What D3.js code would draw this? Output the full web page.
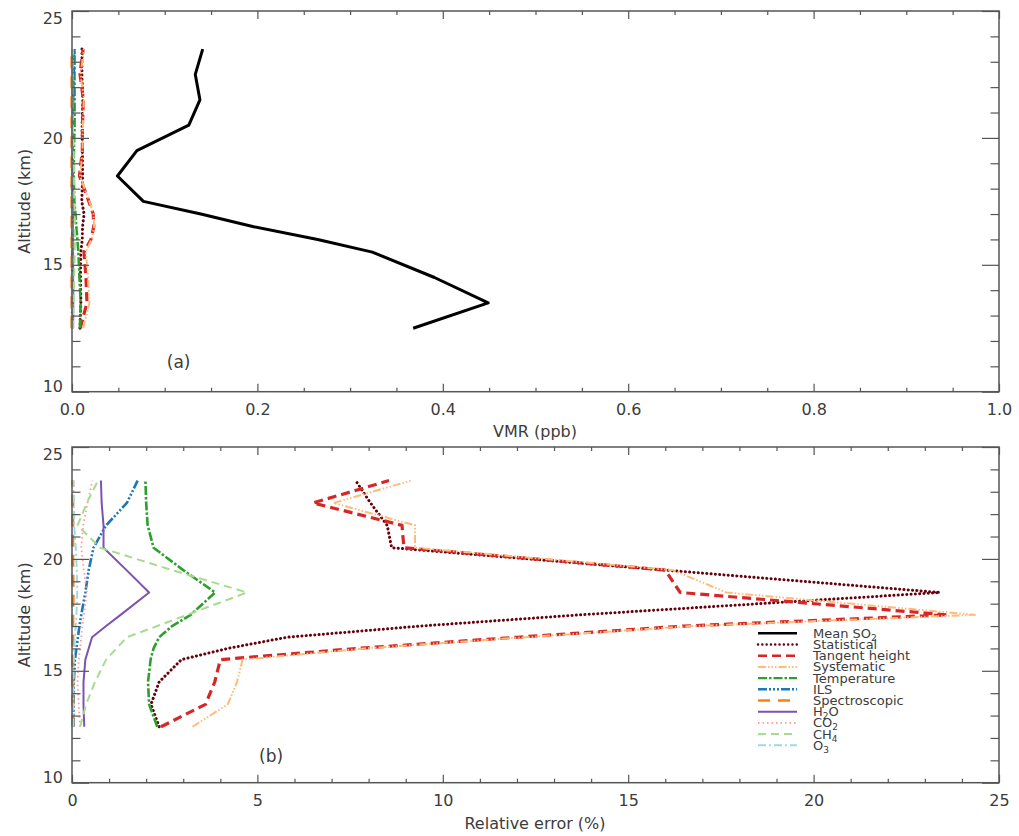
<!DOCTYPE html>
<html>
<head>
<meta charset="utf-8">
<script src="https://cdn.jsdelivr.net/npm/d3@7"></script>
<style>
  body { margin: 0; background: #fff; }
  svg { display: block; }
  text { font-family: "DejaVu Sans", sans-serif; fill: #3c3c3c; }
</style>
</head>
<body>
<svg id="chart" width="1019" height="836"></svg>
<script>
// Retrieval altitude levels (km)
const altitude = [12.5, 13.5, 14.5, 15.5, 16.0, 16.5, 17.0, 17.5, 18.5, 19.5, 20.5, 21.5, 22.5, 23.5];

// Mean SO2 volume mixing ratio (ppb)
const meanSO2 = [0.368, 0.449, 0.391, 0.324, 0.265, 0.196, 0.139, 0.077, 0.049, 0.070, 0.126, 0.138, 0.133, 0.141];

// Relative error contributions (%)
const statistical   = [2.35, 2.13, 2.35, 2.95, 4.2, 5.8, 9.4, 13.7, 23.4, 16.0, 8.62, 8.5, 8.05, 7.65];
const tangentHeight = [2.4, 3.6, 3.85, 4.0, 7.7, 12.0, 16.5, 23.6, 16.4, 16.0, 8.95, 8.9, 6.5, 8.55];
const systematic    = [3.25, 4.2, 4.45, 4.6, 7.9, 12.2, 16.7, 24.35, 17.65, 16.2, 9.25, 9.25, 7.05, 9.15];
const temperature   = [2.3, 2.08, 2.05, 2.12, 2.2, 2.35, 2.7, 3.2, 3.86, 3.0, 2.2, 2.04, 2.0, 1.98];
const ils           = [0.04, 0.04, 0.05, 0.08, 0.12, 0.16, 0.2, 0.25, 0.36, 0.45, 0.58, 0.92, 1.48, 1.77];
const spectroscopic = [0.02, 0.02, 0.02, 0.02, 0.02, 0.02, 0.02, 0.02, 0.03, 0.02, 0.02, 0.02, 0.02, 0.02];
const h2o           = [0.33, 0.31, 0.31, 0.36, 0.45, 0.54, 0.92, 1.31, 2.08, 1.47, 0.85, 0.85, 0.8, 0.78];
const co2           = [0.22, 0.18, 0.15, 0.18, 0.22, 0.25, 0.28, 0.32, 0.4, 0.32, 0.25, 0.3, 0.42, 0.55];
const ch4           = [0.22, 0.38, 0.62, 0.92, 1.2, 1.48, 2.3, 3.1, 4.72, 2.7, 0.76, 0.15, 0.4, 0.7];
const o3            = [0.03, 0.03, 0.04, 0.05, 0.06, 0.08, 0.1, 0.12, 0.14, 0.13, 0.1, 0.06, 0.05, 0.04];

// Axis ticks
const vmrTicks = [0, 0.2, 0.4, 0.6, 0.8, 1.0];
const errTicks = [0, 5, 10, 15, 20, 25];
const altTicks = [10, 15, 20, 25];

// Legend labels: even entries normal text, odd entries subscripts
const legendLabels = [
  ["Mean SO", "2"], ["Statistical"], ["Tangent height"], ["Systematic"], ["Temperature"],
  ["ILS"], ["Spectroscopic"], ["H", "2", "O"], ["CO", "2"], ["CH", "4"], ["O", "3"]
];

// Drawing styles for each error term (legend order)
const errorSeries = [
  { values: statistical,   color: "#67000d", width: 3,   dash: "0.1 4.2", cap: "round" },
  { values: tangentHeight, color: "#d62728", width: 3.2, dash: "9 5",     cap: "butt" },
  { values: systematic,    color: "#ffbb78", width: 2,   dash: "8 2 1.5 2 1.5 2 1.5 2", cap: "butt" },
  { values: temperature,   color: "#2ca02c", width: 2.6, dash: "9 2 2.5 2", cap: "butt" },
  { values: ils,           color: "#1f77b4", width: 2.6, dash: "9 2 2 2 2 2 2 2", cap: "butt" },
  { values: spectroscopic, color: "#ff7f0e", width: 3.2, dash: "12 8",    cap: "butt" },
  { values: h2o,           color: "#7d52b0", width: 2,   dash: null,      cap: "butt" },
  { values: co2,           color: "#ff9896", width: 1.8, dash: "1.5 3",   cap: "butt" },
  { values: ch4,           color: "#a6dc8c", width: 2,   dash: "8 5",     cap: "butt" },
  { values: o3,            color: "#9edae5", width: 2,   dash: "8 3 2 3", cap: "butt" }
];
const meanStyle = { color: "#000", width: 3 };

const svg = d3.select("#chart");
const frameColor = "#555";

function rangeStep(a, b, s) {
  const out = [];
  for (let i = 0; a + i * s <= b + 1e-9; i++) out.push(+(a + i * s).toFixed(6));
  return out;
}

function drawFrame(x, y, xMajor, xMinor, yMajor, yMinor, xFmt) {
  const [x0, x1] = x.range();
  const [y0, y1] = y.range(); // y0 bottom, y1 top
  const g = svg.append("g");

  const style = sel => {
    sel.select(".domain").remove();
    sel.selectAll("line").attr("stroke", frameColor).attr("stroke-width", 1.2);
    sel.selectAll("text").style("font-size", "16px").attr("fill", "#3c3c3c");
  };

  // bottom
  g.append("g").attr("transform", `translate(0,${y0})`)
    .call(d3.axisBottom(x).tickValues(xMajor).tickSize(-8).tickPadding(12).tickFormat(xFmt)).call(style);
  g.append("g").attr("transform", `translate(0,${y0})`)
    .call(d3.axisBottom(x).tickValues(xMinor).tickSize(-4).tickFormat("")).call(style);
  // top
  g.append("g").attr("transform", `translate(0,${y1})`)
    .call(d3.axisTop(x).tickValues(xMajor).tickSize(-8).tickFormat("")).call(style);
  g.append("g").attr("transform", `translate(0,${y1})`)
    .call(d3.axisTop(x).tickValues(xMinor).tickSize(-4).tickFormat("")).call(style);
  // left
  const left = g.append("g").attr("transform", `translate(${x0},0)`)
    .call(d3.axisLeft(y).tickValues(yMajor).tickSize(-17).tickPadding(9).tickFormat(d3.format("d"))).call(style);
  left.selectAll("text").filter(d => d === 25).attr("y", 7);
  left.selectAll("text").filter(d => d === 10).attr("y", -5);
  g.append("g").attr("transform", `translate(${x0},0)`)
    .call(d3.axisLeft(y).tickValues(yMinor).tickSize(-8.5).tickFormat("")).call(style);
  // right
  g.append("g").attr("transform", `translate(${x1},0)`)
    .call(d3.axisRight(y).tickValues(yMajor).tickSize(-17).tickFormat("")).call(style);
  g.append("g").attr("transform", `translate(${x1},0)`)
    .call(d3.axisRight(y).tickValues(yMinor).tickSize(-8.5).tickFormat("")).call(style);

  g.append("rect")
    .attr("x", x0).attr("y", y1).attr("width", x1 - x0).attr("height", y0 - y1)
    .attr("fill", "none").attr("stroke", frameColor).attr("stroke-width", 1.5);
}

function drawProfile(g, x, y, vals, st) {
  const pts = altitude.map((a, i) => ({ alt: a, v: vals[i] }));
  const line = d3.line().x(d => x(d.v)).y(d => y(d.alt));
  g.append("path").datum(pts)
    .attr("d", line)
    .attr("fill", "none")
    .attr("stroke", st.color)
    .attr("stroke-width", st.width)
    .attr("stroke-dasharray", st.dash)
    .attr("stroke-linecap", st.cap || "butt")
    .attr("stroke-linejoin", "round");
}

const altMinor = rangeStep(10, 25, 1).filter(v => !altTicks.includes(v));

// ---------- (a) VMR profile ----------
const xa = d3.scaleLinear().domain([0, 1]).range([72, 999]);
const ya = d3.scaleLinear().domain([10, 25]).range([391.7, 11]);
const ga = svg.append("g");

// absolute errors (ppb) from relative errors and the mean profile
errorSeries.forEach(s => {
  const absVals = s.values.map((r, i) => r / 100 * meanSO2[i]);
  drawProfile(ga, xa, ya, absVals, s);
});
drawProfile(ga, xa, ya, meanSO2, meanStyle);

drawFrame(xa, ya, vmrTicks,
  rangeStep(0, 1, 0.05).filter(v => !vmrTicks.some(t => Math.abs(t - v) < 1e-6)),
  altTicks, altMinor, d3.format(".1f"));

svg.append("text").attr("x", xa(0.115)).attr("y", ya(11.18) + 6)
  .attr("text-anchor", "middle").style("font-size", "17px").text("(a)");
svg.append("text").attr("x", 535).attr("y", 437)
  .attr("text-anchor", "middle").style("font-size", "16px").text("VMR (ppb)");
svg.append("text").attr("transform", `translate(30,${(ya(10) + ya(25)) / 2}) rotate(-90)`)
  .attr("text-anchor", "middle").style("font-size", "16px").text("Altitude (km)");

// ---------- (b) relative errors ----------
const xb = d3.scaleLinear().domain([0, 25]).range([72, 999]);
const yb = d3.scaleLinear().domain([10, 25]).range([782.7, 447]);
const gb = svg.append("g");
errorSeries.forEach(s => drawProfile(gb, xb, yb, s.values, s));

drawFrame(xb, yb, errTicks,
  rangeStep(0, 25, 1).filter(v => !errTicks.includes(v)),
  altTicks, altMinor, d3.format("d"));

svg.append("text").attr("x", xb(5.37)).attr("y", yb(11.2) + 6)
  .attr("text-anchor", "middle").style("font-size", "17px").text("(b)");
svg.append("text").attr("x", 535).attr("y", 829)
  .attr("text-anchor", "middle").style("font-size", "16px").text("Relative error (%)");
svg.append("text").attr("transform", `translate(30,${(yb(10) + yb(25)) / 2}) rotate(-90)`)
  .attr("text-anchor", "middle").style("font-size", "16px").text("Altitude (km)");

// ---------- legend ----------
const legendStyles = [meanStyle].concat(errorSeries);
const lg = svg.append("g").attr("transform", "translate(758,633.3)");
const rowH = 11.2;
legendLabels.forEach((parts, i) => {
  const st = legendStyles[i];
  const yy = i * rowH;
  lg.append("line")
    .attr("x1", 0).attr("x2", 39).attr("y1", yy).attr("y2", yy)
    .attr("stroke", st.color)
    .attr("stroke-width", Math.min(st.width, 2.4))
    .attr("stroke-dasharray", st.dash || null)
    .attr("stroke-linecap", st.cap || "butt");
  const t = lg.append("text").attr("x", 55).attr("y", yy + 4.5).style("font-size", "13px");
  parts.forEach((p, k) => {
    if (k % 2 === 0) {
      t.append("tspan").text(p).attr("dy", k === 0 ? 0 : -3);
    } else {
      t.append("tspan").text(p).attr("dy", 3).style("font-size", "9px");
    }
  });
});
</script>
</body>
</html>
